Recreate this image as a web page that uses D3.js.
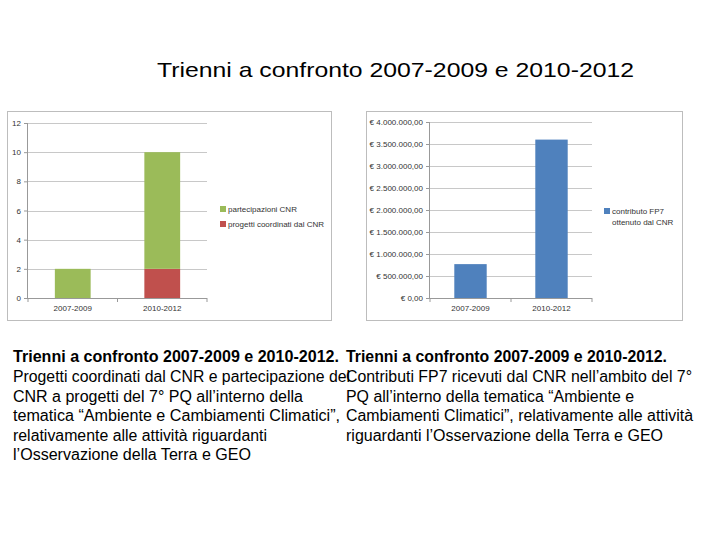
<!DOCTYPE html>
<html lang="it">
<head>
<meta charset="UTF-8">
<title>Trienni a confronto 2007-2009 e 2010-2012</title>
<script src="https://d3js.org/d3.v7.min.js"></script>
<style>
  body { margin: 0; background: #fff; }
  svg { font-family: "Liberation Sans", Arial, sans-serif; }
  .axis text { font-size: 8px; fill: #333; }
  .axis path, .axis line { stroke: #999; }
  .grid line { stroke: #c8c8c8; }
  .legend text { font-size: 8px; fill: #333; }
</style>
</head>
<body>
<svg width="720" height="540"></svg>
<script>
// data
const trienni = ["2007-2009", "2010-2012"];
const partecipazioniCNR = [2, 8];
const progettiCoordinati = [0, 2];
const contributoFP7 = [770000, 3600000];
const ticksLeft = [0, 2, 4, 6, 8, 10, 12];
const ticksRight = [0, 500000, 1000000, 1500000, 2000000, 2500000, 3000000, 3500000, 4000000];

const captionLeft = [
  "Progetti coordinati dal CNR e partecipazione del",
  "CNR a progetti del 7° PQ all’interno della",
  "tematica “Ambiente e Cambiamenti Climatici”,",
  "relativamente alle attività riguardanti",
  "l’Osservazione della Terra e GEO"
];
const captionRight = [
  "Contributi FP7 ricevuti dal CNR nell’ambito del 7°",
  "PQ all’interno della tematica “Ambiente e",
  "Cambiamenti Climatici”, relativamente alle attività",
  "riguardanti l’Osservazione della Terra e GEO"
];
const captionTitle = "Trienni a confronto 2007-2009 e 2010-2012";

const svg = d3.select("svg");

// page title
svg.append("text")
  .attr("x", 157).attr("y", 77)
  .attr("font-size", 21)
  .attr("textLength", 477).attr("lengthAdjust", "spacingAndGlyphs")
  .text(captionTitle);

const itLocale = d3.formatLocale({decimal: ",", thousands: ".", grouping: [3], currency: ["€ ", ""]});
const euro = itLocale.format("$,.2f");

function chartFrame(x0, y0, w, h) {
  svg.append("rect")
    .attr("x", x0 + 0.5).attr("y", y0 + 0.5)
    .attr("width", w).attr("height", h)
    .attr("fill", "#fff").attr("stroke", "#bdbdbd");
}

function drawAxes(g, x, y, ticks, fmt, plotW) {
  g.append("g").attr("class", "grid")
    .selectAll("line").data(ticks.slice(1)).enter().append("line")
    .attr("x1", 0).attr("x2", plotW)
    .attr("y1", d => Math.round(y(d)) + 0.5).attr("y2", d => Math.round(y(d)) + 0.5);

  g.append("g").attr("class", "axis")
    .call(d3.axisLeft(y).tickValues(ticks).tickFormat(fmt).tickSize(4).tickPadding(3))
    .call(a => a.select(".domain").attr("d", `M-0.5,${y.range()[1]}V${y.range()[0]}`));

  // x axis with tick marks between categories
  const xa = g.append("g").attr("class", "axis").attr("transform", `translate(0,${y.range()[0]})`);
  xa.append("line").attr("x1", 0).attr("x2", plotW).attr("y1", 0.5).attr("y2", 0.5);
  const bounds = [0].concat(x.domain().map(d => x(d) + x.step() - x.step() * x.paddingOuter() * 0));
  xa.selectAll(".tk").data(d3.range(x.domain().length + 1)).enter().append("line")
    .attr("x1", i => i * x.step()).attr("x2", i => i * x.step())
    .attr("y1", 0).attr("y2", 4);
  xa.selectAll(".lbl").data(x.domain()).enter().append("text")
    .attr("x", d => x(d) + x.bandwidth() / 2).attr("y", 13)
    .attr("text-anchor", "middle").text(d => d);
}

// ---- left chart: stacked bars
chartFrame(7, 111, 324, 209);
{
  const g = svg.append("g").attr("transform", "translate(28,0)");
  const plotW = 179;
  const x = d3.scaleBand().domain(trienni).range([0, plotW]).paddingInner(0.6).paddingOuter(0.3);
  const y = d3.scaleLinear().domain([0, 12]).range([298, 123]);
  drawAxes(g, x, y, ticksLeft, d3.format("d"), plotW);

  const rows = trienni.map((t, i) => ({t, progetti: progettiCoordinati[i], partecipazioni: partecipazioniCNR[i]}));
  const stack = d3.stack().keys(["progetti", "partecipazioni"])(rows);
  const colors = {progetti: "#c0504d", partecipazioni: "#9bbb59"};
  g.selectAll(".layer").data(stack).enter().append("g")
    .attr("fill", d => colors[d.key])
    .selectAll("rect").data(d => d).enter().append("rect")
    .attr("x", d => x(d.data.t))
    .attr("width", x.bandwidth())
    .attr("y", d => y(d[1]))
    .attr("height", d => y(d[0]) - y(d[1]));

  const legend = svg.append("g").attr("class", "legend");
  const items = [["partecipazioni CNR", colors.partecipazioni], ["progetti coordinati dal CNR", colors.progetti]];
  items.forEach((it, i) => {
    legend.append("rect").attr("x", 220).attr("y", 206 + i * 15).attr("width", 6).attr("height", 6).attr("fill", it[1]);
    legend.append("text").attr("x", 228).attr("y", 212 + i * 15).text(it[0]);
  });
}

// ---- right chart: FP7 contributions
chartFrame(366, 111, 316, 209);
{
  const g = svg.append("g").attr("transform", "translate(430,0)");
  const plotW = 162;
  const x = d3.scaleBand().domain(trienni).range([0, plotW]).paddingInner(0.6).paddingOuter(0.3);
  const y = d3.scaleLinear().domain([0, 4000000]).range([298, 122]);
  drawAxes(g, x, y, ticksRight, euro, plotW);

  g.selectAll(".bar").data(trienni).enter().append("rect")
    .attr("fill", "#4f81bd")
    .attr("x", d => x(d))
    .attr("width", x.bandwidth())
    .attr("y", (d, i) => y(contributoFP7[i]))
    .attr("height", (d, i) => y(0) - y(contributoFP7[i]));

  const legend = svg.append("g").attr("class", "legend");
  legend.append("rect").attr("x", 604).attr("y", 208).attr("width", 6).attr("height", 6).attr("fill", "#4f81bd");
  legend.append("text").attr("x", 612).attr("y", 214).text("contributo FP7");
  legend.append("text").attr("x", 612).attr("y", 225).text("ottenuto dal CNR");
}

// ---- captions
function caption(x0, lines, titleLen, lens) {
  svg.append("text").attr("x", x0).attr("y", 362)
    .attr("font-size", 16).attr("font-weight", "bold")
    .attr("textLength", titleLen).attr("lengthAdjust", "spacingAndGlyphs")
    .text(captionTitle + ".");
  lines.forEach((l, i) => {
    svg.append("text").attr("x", x0).attr("y", 382 + i * 19.5)
      .attr("font-size", 16)
      .attr("textLength", lens[i]).attr("lengthAdjust", "spacingAndGlyphs")
      .text(l);
  });
}
caption(13, captionLeft, 326, [337, 290, 327, 254, 238]);
caption(346, captionRight, 321, [346, 288, 347, 317]);
</script>
</body>
</html>
